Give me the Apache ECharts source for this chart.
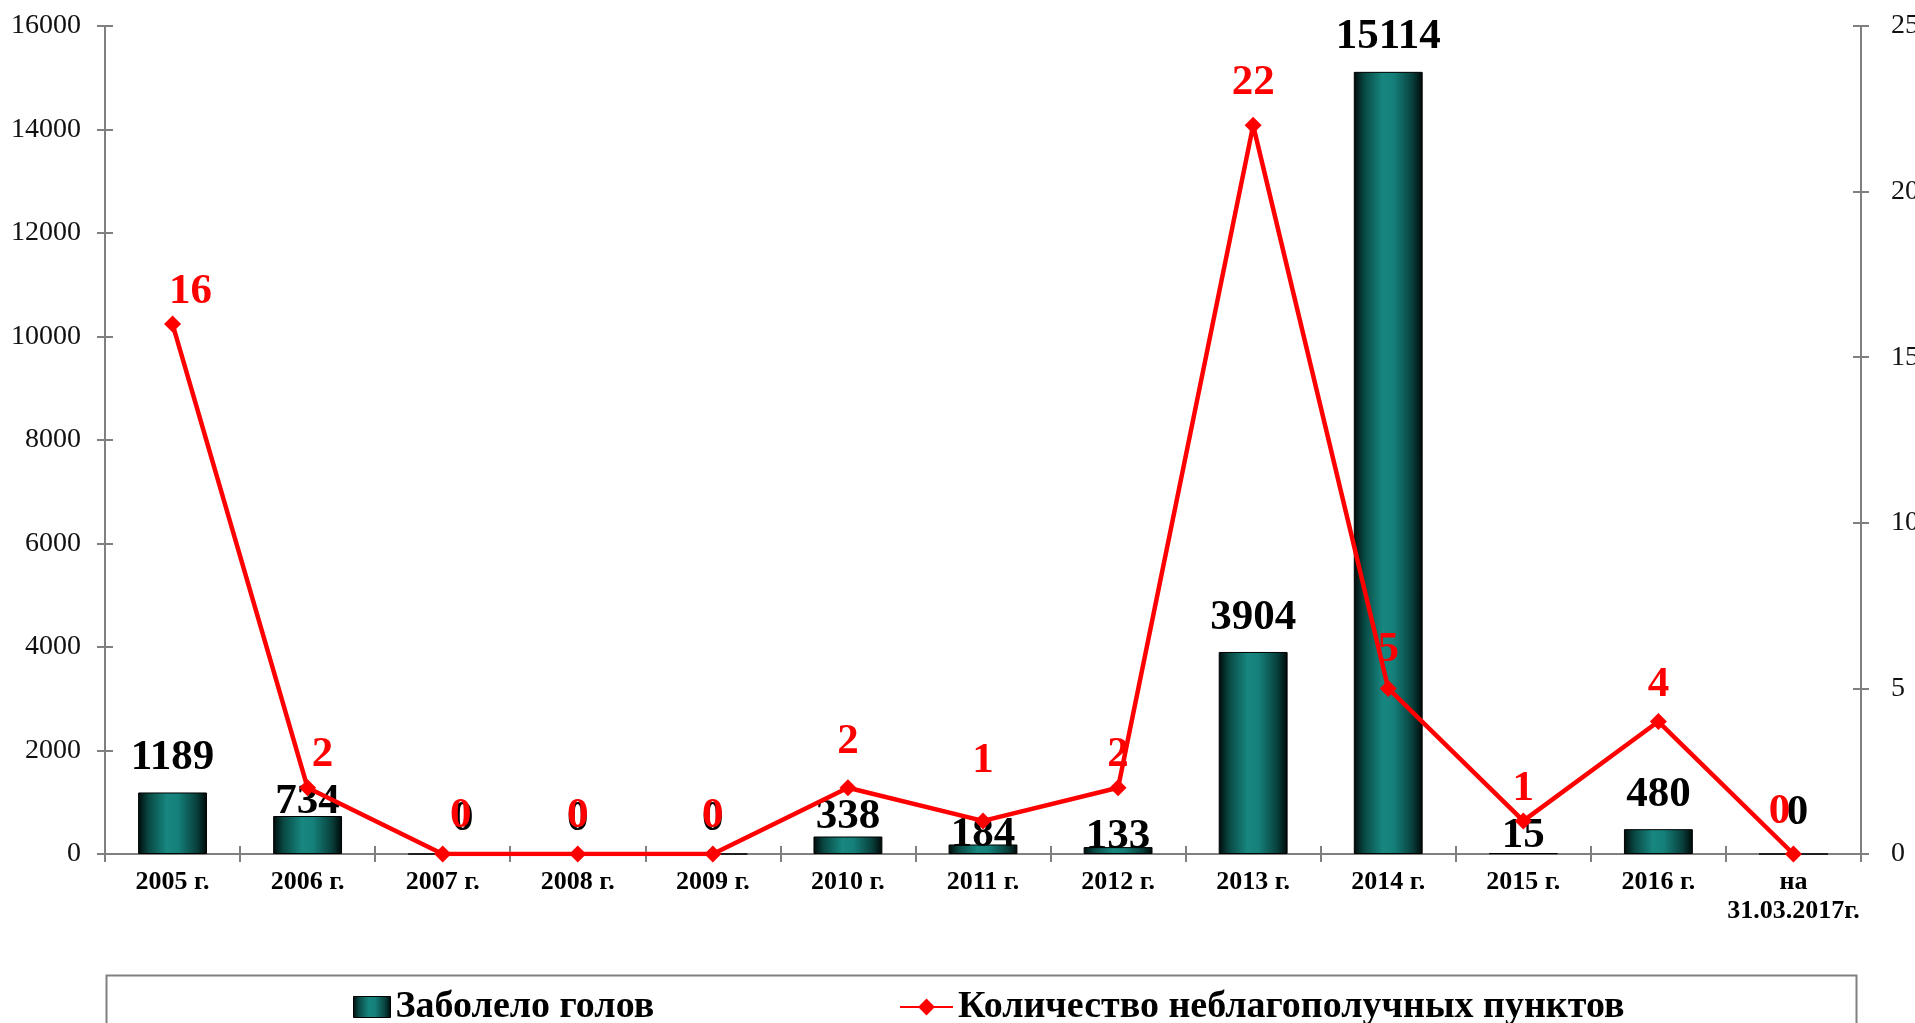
<!DOCTYPE html>
<html>
<head>
<meta charset="utf-8">
<script src="https://cdn.jsdelivr.net/npm/echarts@6/dist/echarts.min.js"></script>
<style>
html,body{margin:0;padding:0;background:#fff;}
#chart{width:1915px;height:1023px;}
</style>
</head>
<body>
<div id="chart"></div>
<script>
const categories = ['2005 г.', '2006 г.', '2007 г.', '2008 г.', '2009 г.', '2010 г.', '2011 г.', '2012 г.', '2013 г.', '2014 г.', '2015 г.', '2016 г.', 'на\n31.03.2017г.'];
const sickHeads = [1189, 734, 0, 0, 0, 338, 184, 133, 3904, 15114, 15, 480, 0];
const badPoints = [16, 2, 0, 0, 0, 2, 1, 2, 22, 5, 1, 4, 0];
const seriesNames = ['Заболело голов', 'Количество неблагополучных пунктов'];
const leftAxis = { min: 0, max: 16000, interval: 2000 };
const rightAxis = { min: 0, max: 25, interval: 5 };

const SERIF = '"Liberation Serif", "Times New Roman", serif';
function barGradient() {
  return new echarts.graphic.LinearGradient(0, 0, 1, 0, [
    { offset: 0, color: '#000a09' },
    { offset: 0.15, color: '#094843' },
    { offset: 0.42, color: '#178780' },
    { offset: 0.58, color: '#15807a' },
    { offset: 0.85, color: '#08403c' },
    { offset: 1, color: '#000807' }
  ]);
}

// label tuning (distance above the mark / sideways shift) for crowded labels
const barLabelDistance = { 1: -7, 5: -2, 6: -12, 7: -11, 10: -4, 12: 19 };
const barLabelShiftX = { 2: 20, 12: 4 };
const lineLabelDistance = { 0: 2, 1: 3, 5: 16, 6: 30, 7: 3, 8: 12, 9: 9, 10: 2, 11: 7, 12: 12 };
const lineLabelShiftX = { 0: 18, 1: 15, 2: 18, 12: -14 };

const barData = sickHeads.map((v, i) => ({
  value: v,
  label: {
    distance: barLabelDistance[i] !== undefined ? barLabelDistance[i] : 13,
    offset: [barLabelShiftX[i] || 0, 0]
  }
}));
const lineData = badPoints.map((v, i) => ({
  value: v,
  label: {
    distance: lineLabelDistance[i] !== undefined ? lineLabelDistance[i] : 8,
    offset: [lineLabelShiftX[i] || 0, 0]
  }
}));

const axisGrey = '#808080';
const legendText = { fontFamily: SERIF, fontWeight: 'bold', fontSize: 38, color: '#000' };
const chart = echarts.init(document.getElementById('chart'), null, { renderer: 'canvas' });
chart.setOption({
  animation: false,
  backgroundColor: '#ffffff',
  grid: { left: 105, right: 54, top: 26, bottom: 169, containLabel: false, outerBoundsMode: 'none' },
  legend: [{
    left: 348,
    top: 983,
    itemWidth: 37,
    itemHeight: 21,
    icon: 'rect',
    itemStyle: { borderColor: '#000', borderWidth: 1 },
    textStyle: legendText,
    data: [seriesNames[0]]
  }, {
    left: 894,
    top: 983,
    itemWidth: 53,
    itemHeight: 21,
    textStyle: legendText,
    data: [seriesNames[1]]
  }],
  graphic: [{
    type: 'rect',
    left: 104,
    top: 973,
    shape: { width: 1750, height: 80 },
    style: { fill: 'none', stroke: axisGrey, lineWidth: 2 },
    silent: true
  }],
  xAxis: [{
    type: 'category',
    data: categories,
    boundaryGap: true,
    axisLine: { lineStyle: { color: axisGrey, width: 2 } },
    axisTick: { show: true, length: 8, lineStyle: { color: axisGrey, width: 2 } },
    axisLabel: {
      fontFamily: SERIF, fontWeight: 'bold', fontSize: 26, lineHeight: 29,
      color: '#000', margin: 14, interval: 0
    },
    splitLine: { show: false }
  }, {
    type: 'category',
    data: categories,
    position: 'bottom',
    boundaryGap: true,
    axisLine: { show: false },
    axisTick: { show: true, inside: true, length: 8, lineStyle: { color: axisGrey, width: 2 } },
    axisLabel: { show: false },
    splitLine: { show: false }
  }],
  yAxis: [{
    type: 'value',
    position: 'left',
    min: leftAxis.min, max: leftAxis.max, interval: leftAxis.interval,
    axisLine: { show: true, lineStyle: { color: axisGrey, width: 2 } },
    axisTick: { show: true, length: 8, lineStyle: { color: axisGrey, width: 2 } },
    axisLabel: { fontFamily: SERIF, fontSize: 28, color: '#111', margin: 24, formatter: v => String(v) },
    splitLine: { show: false }
  }, {
    type: 'value',
    position: 'right',
    min: rightAxis.min, max: rightAxis.max, interval: rightAxis.interval,
    axisLine: { show: true, lineStyle: { color: axisGrey, width: 2 } },
    axisTick: { show: true, length: 8, lineStyle: { color: axisGrey, width: 2 } },
    axisLabel: { fontFamily: SERIF, fontSize: 28, color: '#111', margin: 30, formatter: v => String(v) },
    splitLine: { show: false }
  }, {
    type: 'value',
    position: 'left',
    min: leftAxis.min, max: leftAxis.max, interval: leftAxis.interval,
    axisLine: { show: false },
    axisTick: { show: true, inside: true, length: 8, lineStyle: { color: axisGrey, width: 2 } },
    axisLabel: { show: false },
    splitLine: { show: false }
  }, {
    type: 'value',
    position: 'right',
    min: rightAxis.min, max: rightAxis.max, interval: rightAxis.interval,
    axisLine: { show: false },
    axisTick: { show: true, inside: true, length: 8, lineStyle: { color: axisGrey, width: 2 } },
    axisLabel: { show: false },
    splitLine: { show: false }
  }],
  series: [{
    name: seriesNames[0],
    type: 'bar',
    xAxisIndex: 0,
    yAxisIndex: 0,
    barWidth: '51%',
    data: barData,
    itemStyle: { color: barGradient(), borderColor: '#000', borderWidth: 1 },
    label: {
      show: true, position: 'top', distance: 13,
      fontFamily: SERIF, fontWeight: 'bold', fontSize: 43, color: '#000'
    },
    z: 2
  }, {
    name: seriesNames[1],
    type: 'line',
    xAxisIndex: 0,
    yAxisIndex: 1,
    data: lineData,
    symbol: 'diamond',
    symbolSize: 17,
    lineStyle: { color: '#ff0000', width: 4.5 },
    itemStyle: { color: '#ff0000' },
    label: {
      show: true, position: 'top', distance: 8,
      fontFamily: SERIF, fontWeight: 'bold', fontSize: 43, color: '#ff0000'
    },
    z: 5
  }]
});
</script>
</body>
</html>
